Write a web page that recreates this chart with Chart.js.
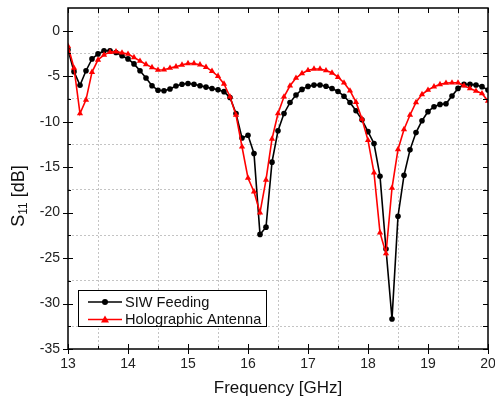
<!DOCTYPE html>
<html>
<head>
<meta charset="utf-8">
<script src="https://cdn.jsdelivr.net/npm/chart.js@4.4.0/dist/chart.umd.min.js"></script>
<style>
  html, body { margin: 0; padding: 0; background: #fff; }
  #wrap { width: 495px; height: 408px; }
</style>
</head>
<body>
<div id="wrap"><canvas id="myChartS11" width="495" height="408"></canvas></div>
<script>
// Frecuencias [GHz]
var frecuencias = [
  13.0, 13.1, 13.2, 13.3, 13.4, 13.5, 13.6, 13.7, 13.8, 13.9,
  14.0, 14.1, 14.2, 14.3, 14.4, 14.5, 14.6, 14.7, 14.8, 14.9,
  15.0, 15.1, 15.2, 15.3, 15.4, 15.5, 15.6, 15.7, 15.8, 15.9,
  16.0, 16.1, 16.2, 16.3, 16.4, 16.5, 16.6, 16.7, 16.8, 16.9,
  17.0, 17.1, 17.2, 17.3, 17.4, 17.5, 17.6, 17.7, 17.8, 17.9,
  18.0, 18.1, 18.2, 18.3, 18.4, 18.5, 18.6, 18.7, 18.8, 18.9,
  19.0, 19.1, 19.2, 19.3, 19.4, 19.5, 19.6, 19.7, 19.8, 19.9,
  20.0
];

// S11 [dB] - SIW Feeding
var siwFeeding = [
  -2.1, -4.5, -6.0, -4.4, -3.1, -2.55, -2.2, -2.2, -2.4, -2.75,
  -3.1, -3.65, -4.4, -5.2, -6.05, -6.55, -6.6, -6.4, -6.07, -5.88,
  -5.8, -5.88, -6.05, -6.2, -6.35, -6.5, -6.7, -7.35, -9.1, -11.8,
  -11.5, -13.5, -22.4, -21.6, -14.45, -11.0, -9.1, -7.9, -7.07, -6.45,
  -6.12, -5.98, -5.97, -6.1, -6.35, -6.68, -7.2, -7.9, -8.8, -9.8,
  -11.1, -12.4, -16.0, -24.0, -31.7, -20.4, -15.9, -13.1, -11.2, -9.9,
  -8.9, -8.36, -8.1, -8.03, -7.18, -6.34, -5.9, -5.9, -5.97, -6.15,
  -6.52
];

// S11 [dB] - Holographic Antenna
var holografica = [
  -1.7, -4.1, -9.1, -7.6, -4.55, -3.2, -2.65, -2.35, -2.3, -2.42,
  -2.56, -2.93, -3.33, -3.7, -4.03, -4.32, -4.29, -4.1, -3.95, -3.75,
  -3.6, -3.6, -3.73, -4.0, -4.45, -5.0, -5.85, -7.26, -9.27, -12.76,
  -16.2, -17.7, -20.0, -16.4, -11.9, -9.1, -7.26, -6.05, -5.2, -4.7,
  -4.35, -4.2, -4.2, -4.38, -4.63, -5.1, -5.72, -6.6, -7.85, -9.7,
  -12.05, -15.6, -22.2, -24.5, -17.3, -13.05, -10.85, -9.27, -7.88, -7.0,
  -6.52, -6.15, -5.9, -5.75, -5.72, -5.72, -6.05, -6.34, -6.63, -6.9,
  -7.73
];

var etiquetas = ['SIW Feeding', 'Holographic Antenna'];
var tituloX = 'Frequency [GHz]';

function aPuntos(xs, ys) {
  return xs.map(function (x, i) { return { x: x, y: ys[i] }; });
}

var fuente = "'Liberation Sans', Arial, sans-serif";

// Marco, ticks internos, leyenda y títulos de ejes
var marcoPlugin = {
  id: 'marco',
  afterDraw: function (chart) {
    var c = chart.ctx, a = chart.chartArea;
    var sx = chart.scales.x, sy = chart.scales.y;
    c.save();
    c.strokeStyle = '#000';
    c.lineWidth = 1;
    c.beginPath();
    sx.ticks.forEach(function (t) {
      var px = Math.round(sx.getPixelForValue(t.value)) + 0.5;
      var mayor = Number.isInteger(t.value);
      c.moveTo(px, a.bottom + (mayor ? 5 : 0));
      c.lineTo(px, a.bottom - (mayor ? 5 : 3));
      c.moveTo(px, a.top);
      c.lineTo(px, a.top + 5);
    });
    sy.ticks.forEach(function (t) {
      if (t.value > 0) return;
      var py = Math.round(sy.getPixelForValue(t.value)) + 0.5;
      var mayor = t.value % 5 === 0;
      c.moveTo(a.left - (mayor ? 5 : 0), py);
      c.lineTo(a.left + (mayor ? 5 : 3), py);
      c.moveTo(a.right, py);
      c.lineTo(a.right - 5, py);
    });
    c.stroke();

    c.lineWidth = 1.5;
    c.strokeRect(a.left, a.top, a.right - a.left, a.bottom - a.top);

    // leyenda
    c.fillStyle = '#fff';
    c.fillRect(78.5, 290.5, 188, 36);
    c.lineWidth = 1;
    c.strokeRect(78.5, 290.5, 188, 36);
    var filas = [
      { y: 302, color: '#000', tipo: 'circle' },
      { y: 319.5, color: '#f00', tipo: 'triangle' }
    ];
    filas.forEach(function (f, i) {
      c.strokeStyle = f.color;
      c.fillStyle = f.color;
      c.lineWidth = 1.5;
      c.beginPath();
      c.moveTo(88, f.y);
      c.lineTo(122, f.y);
      c.stroke();
      c.beginPath();
      if (f.tipo === 'circle') {
        c.arc(105, f.y, 3, 0, Math.PI * 2);
      } else {
        c.moveTo(105, f.y - 4);
        c.lineTo(109, f.y + 3);
        c.lineTo(101, f.y + 3);
        c.closePath();
      }
      c.fill();
      c.fillStyle = '#111';
      c.font = '14.6px ' + fuente;
      c.textAlign = 'left';
      c.textBaseline = 'middle';
      c.fillText(etiquetas[i], 125, f.y + 0.5);
    });

    // título eje x
    c.fillStyle = '#111';
    c.font = '17px ' + fuente;
    c.textAlign = 'center';
    c.textBaseline = 'middle';
    c.fillText(tituloX, (a.left + a.right) / 2, 388);

    // título eje y con subíndice
    c.translate(19, 196);
    c.rotate(-Math.PI / 2);
    c.textBaseline = 'middle';
    c.textAlign = 'left';
    var fGrande = '18px ' + fuente, fChica = '12px ' + fuente;
    c.font = fGrande;
    var wS = c.measureText('S').width;
    var wResto = c.measureText(' [dB]').width;
    c.font = fChica;
    var wSub = c.measureText('11').width;
    var x0 = -(wS + wSub + wResto) / 2;
    c.font = fGrande;
    c.fillText('S', x0, 0);
    c.font = fChica;
    c.fillText('11', x0 + wS, 5);
    c.font = fGrande;
    c.fillText(' [dB]', x0 + wS + wSub, 0);
    c.restore();
  }
};

function initializeChartS11() {
  var ctx = document.getElementById('myChartS11').getContext('2d');

  window.myChart = new Chart(ctx, {
    type: 'line',
    data: {
      datasets: [{
        label: etiquetas[0],
        data: aPuntos(frecuencias, siwFeeding),
        borderColor: '#000',
        backgroundColor: '#000',
        borderWidth: 1.6,
        pointStyle: 'circle',
        pointRadius: 2.8,
        pointBorderWidth: 0,
        fill: false,
        tension: 0,
        order: 1
      },
      {
        label: etiquetas[1],
        data: aPuntos(frecuencias, holografica),
        borderColor: '#f00',
        backgroundColor: '#f00',
        borderWidth: 1.6,
        pointStyle: 'triangle',
        pointRadius: 3.6,
        pointBorderWidth: 0,
        fill: false,
        tension: 0,
        order: 0
      }]
    },
    options: {
      responsive: false,
      animation: false,
      layout: { padding: { top: 8, right: 7, left: 0, bottom: 0 } },
      plugins: {
        legend: { display: false },
        tooltip: { enabled: false }
      },
      scales: {
        x: {
          type: 'linear',
          min: 13,
          max: 20,
          afterFit: function (s) { s.height = 59; s.paddingLeft = 0; s.paddingRight = 0; },
          ticks: {
            stepSize: 0.5,
            autoSkip: false,
            maxRotation: 0,
            padding: 7,
            color: '#222',
            font: { family: fuente, size: 14 },
            callback: function (v) { return Number.isInteger(v) ? String(v) : ''; }
          },
          grid: {
            drawTicks: false,
            lineWidth: 1,
            color: function (c) {
              var v = c.tick ? c.tick.value : 0;
              return Number.isInteger(v) ? 'rgba(0,0,0,0)' : '#c4c4c4';
            }
          },
          border: { display: false, dash: [2, 2] }
        },
        y: {
          min: -35,
          max: 2.5,
          afterFit: function (s) { s.width = 68; s.paddingTop = 0; s.paddingBottom = 0; },
          ticks: {
            stepSize: 2.5,
            autoSkip: false,
            padding: 8,
            color: '#222',
            font: { family: fuente, size: 14 },
            callback: function (v) { return v % 5 === 0 ? String(v) : ''; }
          },
          grid: {
            drawTicks: false,
            lineWidth: 1,
            color: function (c) {
              var v = c.tick ? c.tick.value : 0;
              return (v % 5 === 0 || v > 0) ? 'rgba(0,0,0,0)' : '#c4c4c4';
            }
          },
          border: { display: false, dash: [2, 2] }
        }
      }
    },
    plugins: [marcoPlugin]
  });
}

initializeChartS11();
</script>
</body>
</html>
